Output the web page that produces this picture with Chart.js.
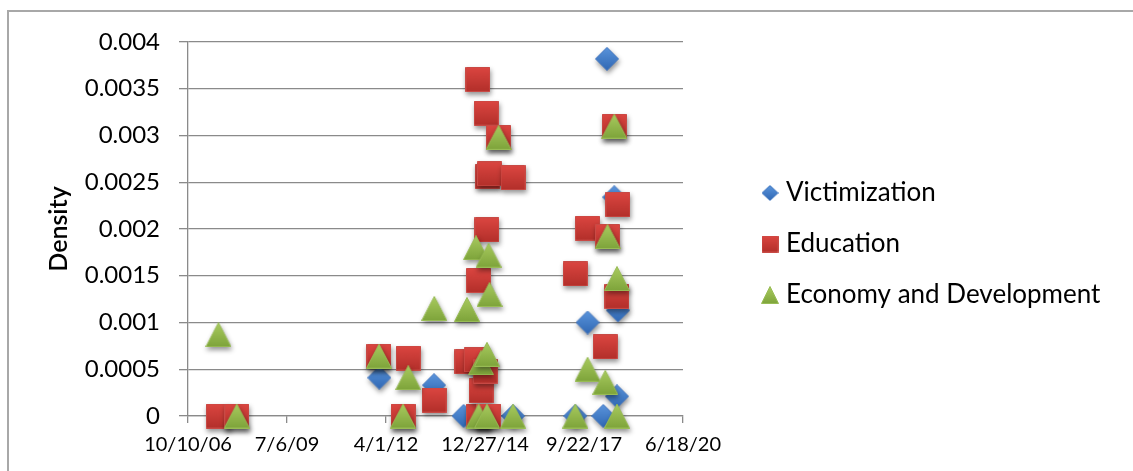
<!DOCTYPE html>
<html>
<head>
<meta charset="utf-8">
<script src="https://cdn.jsdelivr.net/npm/chart.js@4.4.1/dist/chart.umd.min.js"></script>
<style>
html,body{margin:0;padding:0;background:#ffffff;}
#wrap{width:1133px;height:471px;position:relative;overflow:hidden;}
</style>
</head>
<body>
<div id="wrap"><canvas id="c" width="1133" height="471"></canvas></div>
<script>
// ---- data ----
const xTickLabels = ['10/10/06','7/6/09','4/1/12','12/27/14','9/22/17','6/18/20'];
const yTickLabels = ['0','0.0005','0.001','0.0015','0.002','0.0025','0.003','0.0035','0.004'];
const seriesNames = ['Victimization','Education','Economy and Development'];

const victimDates  = ['2012-01-24','2013-07-30','2014-05-25','2014-10-23','2015-01-16','2015-10-06','2017-06-26','2017-10-28','2018-04-05','2018-05-12','2018-07-25','2018-08-21','2018-08-31'];
const victimValues = [0.00041,0.00033,0,0,0,0,0,0.001,0,0.00382,0.00234,0.00021,0.00113];

const eduDates  = ['2007-08-14','2008-02-15','2012-01-21','2012-09-20','2012-11-12','2013-07-30','2014-06-28','2014-09-30','2014-10-17','2014-10-23','2014-10-23','2014-11-17','2014-12-30','2015-01-09','2015-01-19','2015-01-16','2015-02-11','2015-02-01','2015-05-13','2015-10-06','2017-06-26','2017-10-28','2018-04-25','2018-05-18','2018-07-25','2018-08-21','2018-08-31'];
const eduValues = [0,0,0.00064,0,0.00062,0.00017,0.00058,0.0006,0.0036,0.00145,0,0.00027,0.00048,0.00324,0.00256,0.00199,0.00259,0,0.00298,0.00255,0.00152,0.00201,0.00074,0.00192,0.0031,0.00128,0.00226];

const econDates  = ['2007-08-14','2008-02-15','2012-01-21','2012-09-20','2012-11-12','2013-08-02','2014-06-28','2014-09-27','2014-10-23','2014-11-17','2015-01-16','2015-01-16','2015-02-01','2015-02-11','2015-05-13','2015-10-06','2017-06-26','2017-10-28','2018-04-25','2018-05-18','2018-07-25','2018-08-21','2018-08-21'];
const econValues = [0.00087,0,0.00064,0,0.00041,0.00115,0.00114,0.0018,0,0.00057,0.00066,0,0.00172,0.0013,0.00298,0,0,0.0005,0.00036,0.00192,0.0031,0.00147,0];

// ---- helpers ----
function excelSerial(d){
  const p = d.split('-').map(Number);
  return (Date.UTC(p[0], p[1]-1, p[2]) - Date.UTC(1899, 11, 30)) / 86400000;
}
function toPoints(dates, values){
  return dates.map((d, i) => ({x: excelSerial(d), y: values[i]}));
}
function marker(shape, w, h, top, bottom, stroke){
  const c = document.createElement('canvas');
  c.width = w; c.height = h;
  const g = c.getContext('2d');
  const gr = g.createLinearGradient(0, 0, 0, h);
  gr.addColorStop(0, top); gr.addColorStop(1, bottom);
  g.fillStyle = gr; g.strokeStyle = stroke; g.lineWidth = 1;
  g.beginPath();
  if (shape === 'diamond') {
    g.moveTo(w/2, 0.5); g.lineTo(w-0.5, h/2); g.lineTo(w/2, h-0.5); g.lineTo(0.5, h/2);
  } else if (shape === 'square') {
    g.rect(0.5, 0.5, w-1, h-1);
  } else {
    g.moveTo(w/2, 0.5); g.lineTo(w-0.5, h-0.5); g.lineTo(0.5, h-0.5);
  }
  g.closePath(); g.fill(); g.stroke();
  return c;
}
const BLUE = ['#5b95dc','#2f67b3','#3c73bf'];
const RED = ['#dc4641','#b22f2a','#c84a45'];
const GREEN = ['#a9cb5f','#7da33a','#98bc55'];
const dataMarkers = [
  marker('diamond', 24, 24, BLUE[0], BLUE[1], BLUE[2]),
  marker('square', 25, 25, RED[0], RED[1], RED[2]),
  marker('triangle', 26, 25, GREEN[0], GREEN[1], GREEN[2])
];
const legendMarkers = [
  marker('diamond', 17, 16, BLUE[0], BLUE[1], BLUE[2]),
  marker('square', 17, 17, RED[0], RED[1], RED[2]),
  marker('triangle', 18, 18, GREEN[0], GREEN[1], GREEN[2])
];

// ---- layout numbers ----
const FONT = 'Lato';
const LEG_SIZE = 26, LEG_PAD = 25, LEG_BOX = 6;
const mctx = document.createElement('canvas').getContext('2d');
mctx.font = LEG_SIZE + 'px ' + FONT;
const maxTW = Math.max(...seriesNames.map(n => mctx.measureText(n).width));
const legendW = LEG_PAD + LEG_BOX + LEG_SIZE/2 + maxTW + 10;
const PLOT_RIGHT = 683;
const padRight = 1133 - PLOT_RIGHT - legendW;

const GRID = '#8a8a8a';

const framePlugin = {
  id: 'frame',
  beforeDraw(chart){
    const c = chart.ctx;
    c.save();
    c.fillStyle = '#ffffff';
    c.fillRect(0, 0, chart.width, chart.height);
    c.strokeStyle = '#a8a8a8';
    c.lineWidth = 2;
    c.strokeRect(8, 11, 1300, 700);
    c.restore();
  }
};
const shadowPlugin = {
  id: 'markerShadow',
  beforeDatasetsDraw(chart){
    const c = chart.ctx;
    c.save();
    c.shadowColor = 'rgba(0,0,0,0.42)';
    c.shadowBlur = 5;
    c.shadowOffsetX = 1;
    c.shadowOffsetY = 3;
  },
  afterDatasetsDraw(chart){ chart.ctx.restore(); }
};
// legend item: marker centre at x+LEG_BOX/2, text at x+LEG_BOX+size/2
const LEG_TEXT_X = 786;
const legendPlace = {
  id: 'legendPlace',
  afterLayout(chart){
    const L = chart.legend;
    if (!L) return;
    const w = L.width;
    L.left = LEG_TEXT_X - LEG_BOX - LEG_SIZE/2 - LEG_PAD;
    L.right = L.left + w + 40;
    L.width = w + 40;
    // centre first row at y=193 with 51px spacing
    const colH = 3 * (LEG_SIZE + LEG_PAD);
    const sum = 2 * (193 - LEG_SIZE/2) - LEG_PAD + colH;
    L.top = 0;
    L.bottom = sum;
    L.height = sum;
  }
};

const allData = [toPoints(victimDates, victimValues), toPoints(eduDates, eduValues), toPoints(econDates, econValues)];

new Chart(document.getElementById('c'), {
  type: 'scatter',
  data: {
    datasets: seriesNames.map((name, i) => ({
      label: name,
      data: allData[i],
      pointStyle: dataMarkers[i],
      pointRadius: 13,
      pointHoverRadius: 13,
      showLine: false,
      clip: false,
      order: 3 - i
    }))
  },
  options: {
    responsive: false,
    animation: false,
    devicePixelRatio: 1,
    events: [],
    layout: { padding: { left: 0, top: 42, right: padRight, bottom: 0 } },
    plugins: {
      tooltip: { enabled: false },
      legend: {
        position: 'right',
        maxWidth: 600,
        labels: {
          usePointStyle: true,
          boxWidth: LEG_BOX,
          padding: LEG_PAD,
          color: '#000000',
          font: { family: FONT, size: LEG_SIZE },
          generateLabels: (chart) => chart.data.datasets.map((ds, i) => ({
            text: ds.label,
            pointStyle: legendMarkers[i],
            fillStyle: '#000',
            strokeStyle: 'rgba(0,0,0,0)',
            lineWidth: 0,
            hidden: false,
            datasetIndex: i,
            fontColor: '#000000'
          }))
        }
      }
    },
    scales: {
      x: {
        type: 'linear',
        min: 39000,
        max: 44000,
        afterFit: (s) => { s.height = 55; },
        ticks: {
          stepSize: 1000,
          autoSkip: false,
          maxRotation: 0,
          padding: 10,
          color: '#000000',
          font: { family: FONT, size: 20 },
          callback: (v) => xTickLabels[Math.round((v - 39000) / 1000)]
        },
        grid: { drawOnChartArea: false, drawTicks: true, tickLength: 7, color: GRID, lineWidth: 1.3 },
        border: { color: GRID, width: 1.3 }
      },
      y: {
        min: 0,
        max: 0.004,
        afterFit: (s) => { s.width = 188; },
        ticks: {
          stepSize: 0.0005,
          padding: 19,
          color: '#000000',
          font: { family: FONT, size: 24 },
          callback: (v) => yTickLabels[Math.round(v / 0.0005)]
        },
        grid: { color: GRID, lineWidth: 1.3, tickLength: 9 },
        border: { color: GRID, width: 1.3 },
        title: {
          display: true,
          text: 'Density',
          color: '#000000',
          font: { family: FONT, size: 25, weight: '600' },
          padding: { top: 44, bottom: 0 }
        }
      }
    }
  },
  plugins: [framePlugin, shadowPlugin, legendPlace]
});
</script>
</body>
</html>
